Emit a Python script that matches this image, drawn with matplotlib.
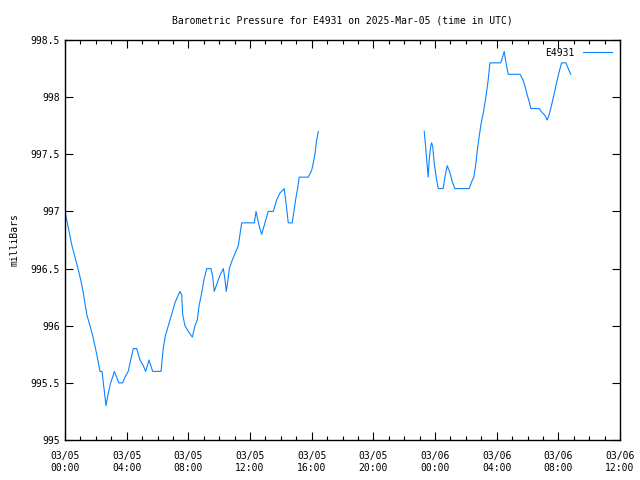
import numpy as np
import pandas as pd
import matplotlib
matplotlib.use("Agg")
import matplotlib.pyplot as plt
import matplotlib.dates as mdates

# hours after 2025-03-05 00:00 UTC, nan marks the data gap
hours = [0.0, 0.15, 0.3, 0.45, 0.65, 0.84, 1.02, 1.17, 1.41, 1.62, 1.82, 2.06,
         2.27, 2.4, 2.53, 2.66, 2.79, 2.96, 3.09, 3.2, 3.35, 3.48, 3.74, 3.89,
         4.1, 4.26, 4.43, 4.65, 4.86, 5.08, 5.23, 5.45, 5.69, 6.23, 6.37, 6.49,
         6.7, 6.92, 7.13, 7.35, 7.46, 7.57, 7.63, 7.78, 8.0, 8.26, 8.43, 8.58,
         8.69, 8.87, 9.01, 9.19, 9.47, 9.58, 9.68, 9.84, 10.05, 10.27, 10.38,
         10.46, 10.57, 10.66, 10.81, 11.02, 11.24, 11.35, 11.46, 11.52, 12.28,
         12.39, 12.47, 12.6, 12.76, 12.97, 13.18, 13.51, 13.73, 13.94, 14.16,
         14.22, 14.31, 14.4, 14.48, 14.74, 14.85, 14.98, 15.09, 15.19, 15.78,
         16.0, 16.1, 16.21, 16.32, 16.43,
         20.0,
         23.3, 23.39, 23.46, 23.56, 23.62, 23.72, 23.78, 23.85, 23.95, 24.1,
         24.21, 24.53, 24.64, 24.79, 24.97, 25.12, 25.29, 26.22, 26.38, 26.52,
         26.65, 26.74, 26.85, 26.98, 27.13, 27.3, 27.45, 27.56, 28.26, 28.36,
         28.49, 28.58, 28.68, 28.75, 29.51, 29.68, 29.83, 29.98, 30.11, 30.22,
         30.76, 30.92, 31.13, 31.28, 31.41, 31.56, 31.73, 31.89, 32.05, 32.21,
         32.49, 32.64, 32.8]

pressure = [997.0, 996.9, 996.8, 996.7, 996.6, 996.5, 996.4, 996.3, 996.1,
            996.0, 995.9, 995.75, 995.6, 995.6, 995.45, 995.3, 995.4, 995.5,
            995.55, 995.6, 995.55, 995.5, 995.5, 995.55, 995.6, 995.7, 995.8,
            995.8, 995.7, 995.65, 995.6, 995.7, 995.6, 995.6, 995.8, 995.9,
            996.0, 996.1, 996.2, 996.27, 996.3, 996.27, 996.1, 996.0, 995.95,
            995.9, 996.0, 996.05, 996.17, 996.29, 996.4, 996.5, 996.5, 996.43,
            996.3, 996.36, 996.44, 996.5, 996.4, 996.3, 996.4, 996.5, 996.56,
            996.63, 996.7, 996.8, 996.9, 996.9, 996.9, 997.0, 996.95, 996.87,
            996.8, 996.9, 997.0, 997.0, 997.1, 997.16, 997.19, 997.2, 997.1,
            997.0, 996.9, 996.9, 997.0, 997.12, 997.2, 997.3, 997.3, 997.36,
            997.42, 997.5, 997.62, 997.7,
            np.nan,
            997.7, 997.57, 997.45, 997.3, 997.45, 997.57, 997.6, 997.57, 997.42,
            997.28, 997.2, 997.2, 997.3, 997.4, 997.34, 997.26, 997.2, 997.2,
            997.26, 997.3, 997.42, 997.53, 997.64, 997.76, 997.86, 998.0,
            998.15, 998.3, 998.3, 998.34, 998.4, 998.32, 998.25, 998.2, 998.2,
            998.16, 998.1, 998.02, 997.96, 997.9, 997.9, 997.87, 997.84, 997.8,
            997.85, 997.93, 998.03, 998.13, 998.22, 998.3, 998.3, 998.25, 998.2]

start = pd.Timestamp("2025-03-05 00:00")
times = start + pd.to_timedelta(hours, unit="h")

plt.rcParams["font.family"] = ["DejaVu Sans Mono"]
plt.rcParams["font.size"] = 7

fig = plt.figure(figsize=(6.4, 4.8), dpi=100)
ax = fig.add_axes([65 / 640, 40 / 480, 555 / 640, 400 / 480])

ax.plot(times, pressure, color="#0a84ff", linewidth=0.8, label="E4931")

ax.set_xlim(start, start + pd.Timedelta(hours=36))
ax.set_ylim(995, 998.5)
ax.set_yticks(np.arange(995, 998.51, 0.5))
ax.set_yticklabels(["995", "995.5", "996", "996.5", "997", "997.5", "998", "998.5"])

ax.xaxis.set_major_locator(mdates.HourLocator(byhour=range(0, 24, 4)))
ax.xaxis.set_minor_locator(mdates.HourLocator())
ax.xaxis.set_major_formatter(mdates.DateFormatter("%m/%d\n%H:%M"))

ax.tick_params(which="both", direction="in", top=True, right=True, color="black")
ax.tick_params(which="major", length=6, width=0.8)
ax.tick_params(which="minor", length=3, width=0.8)
ax.tick_params(axis="x", pad=8)
for s in ax.spines.values():
    s.set_linewidth(1)

ax.set_title("Barometric Pressure for E4931 on 2025-Mar-05 (time in UTC)",
             fontsize=7, pad=12)
ax.set_ylabel("milliBars", labelpad=8)

ax.legend(loc="upper right", frameon=False, markerfirst=False,
          handlelength=3.0, borderaxespad=0.4, handletextpad=0.9)

fig.savefig("out.png", dpi=100)
